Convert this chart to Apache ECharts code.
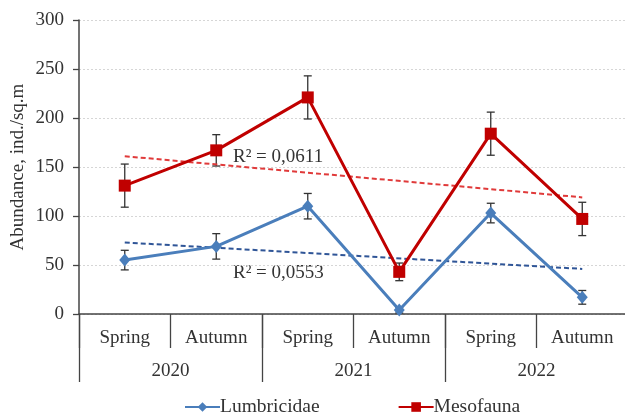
<!DOCTYPE html>
<html>
<head>
<meta charset="utf-8">
<script src="https://cdn.jsdelivr.net/npm/echarts@6/dist/echarts.min.js"></script>
<style>html,body{margin:0;padding:0;background:#fff}#c{width:625px;height:414px}</style>
</head>
<body>
<div id="c"></div>
<script>
const seasons = ['Spring', 'Autumn', 'Spring', 'Autumn', 'Spring', 'Autumn'];
const years = ['2020', '2021', '2022'];
const lumbricidae = [55, 69, 110, 4, 103, 17];
const lumbricidaeErr = [10, 13, 13, 3, 10, 7];
const mesofauna = [131, 167, 221, 43, 184, 97];
const mesofaunaErr = [22, 16, 22, 9, 22, 17];
const lumbTrend = [73, 46];
const mesoTrend = [161, 119];
const yTicks = { min: 0, max: 300, interval: 50 };

const FONT = '"Liberation Serif", "Times New Roman", serif';
const TXT = '#333';

function errSeries(vals, errs, name) {
  return {
    type: 'custom', name: name + ' err', z: 1, silent: true,
    xAxisIndex: 0, yAxisIndex: 0,
    data: vals.map((v, i) => [i, v, errs[i]]),
    renderItem: function (params, api) {
      const x = api.value(0), y = api.value(1), e = api.value(2);
      const top = api.coord([x, y + e]);
      const bot = api.coord([x, y - e]);
      const w = 4;
      const st = { stroke: '#333', lineWidth: 1.3 };
      return {
        type: 'group',
        children: [
          { type: 'line', shape: { x1: top[0], y1: top[1], x2: bot[0], y2: bot[1] }, style: st },
          { type: 'line', shape: { x1: top[0] - w, y1: top[1], x2: top[0] + w, y2: top[1] }, style: st },
          { type: 'line', shape: { x1: bot[0] - w, y1: bot[1], x2: bot[0] + w, y2: bot[1] }, style: st }
        ]
      };
    }
  };
}

const chart = echarts.init(document.getElementById('c'), null, { renderer: 'canvas' });
chart.setOption({
  animation: false,
  backgroundColor: '#fff',
  textStyle: { fontFamily: FONT },
  grid: { left: 79, top: 20, width: 549, height: 294, outerBoundsMode: 'none', containLabel: false },
  legend: {
    data: [
      { name: 'Lumbricidae' },
      { name: 'Mesofauna' }
    ],
    left: 179, top: 392,
    itemWidth: 35, itemHeight: 12, itemGap: 78,
    textStyle: { fontFamily: FONT, fontSize: 19.5, color: TXT, padding: [0, 0, 0, -5] }
  },
  xAxis: [
    {
      type: 'category', data: seasons, position: 'bottom',
      axisLine: { show: true, lineStyle: { color: '#444', width: 1.5 } },
      axisTick: { show: true, length: 34, interval: 0, lineStyle: { color: '#444', width: 1.3 } },
      axisLabel: { interval: 0, margin: 15, fontSize: 19, color: TXT, fontFamily: FONT },
      splitLine: { show: false }
    },
    {
      type: 'category', data: years, position: 'bottom',
      axisLine: { show: false },
      axisTick: { show: true, length: 68, interval: 0, lineStyle: { color: '#444', width: 1.3 } },
      axisLabel: { interval: 0, margin: 48, fontSize: 19, color: TXT, fontFamily: FONT },
      splitLine: { show: false }
    }
  ],
  yAxis: {
    type: 'value', min: yTicks.min, max: yTicks.max, interval: yTicks.interval,
    name: 'Abundance, ind./sq.m', nameLocation: 'middle', nameGap: 51, nameMoveOverlap: false,
    nameTextStyle: { fontSize: 19, color: TXT, fontFamily: FONT },
    axisLine: { show: true, lineStyle: { color: '#444', width: 1.5 } },
    axisTick: { show: true, length: 6, lineStyle: { color: '#444', width: 1.3 } },
    axisLabel: { margin: 15, fontSize: 19, color: TXT, fontFamily: FONT },
    splitLine: { show: true, lineStyle: { color: '#d6d6d6', type: [2, 2], width: 1 } }
  },
  graphic: [
    { type: 'text', left: 233, top: 148, style: { text: 'R² = 0,0611', font: '19px ' + FONT, fill: TXT } },
    { type: 'text', left: 233, top: 264, style: { text: 'R² = 0,0553', font: '19px ' + FONT, fill: TXT } }
  ],
  series: [
    {
      name: 'Lumbricidae trend', type: 'line', z: 2, silent: true,
      data: [[0, lumbTrend[0]], [5, lumbTrend[1]]],
      symbol: 'none', lineStyle: { color: '#2F5597', width: 2, type: [5, 3] }
    },
    {
      name: 'Mesofauna trend', type: 'line', z: 2, silent: true,
      data: [[0, mesoTrend[0]], [5, mesoTrend[1]]],
      symbol: 'none', lineStyle: { color: '#E03A3A', width: 2, type: [5, 3] }
    },
    errSeries(lumbricidae, lumbricidaeErr, 'Lumbricidae'),
    errSeries(mesofauna, mesofaunaErr, 'Mesofauna'),
    {
      name: 'Lumbricidae', type: 'line', z: 3, data: lumbricidae,
      symbol: 'diamond', symbolSize: [11, 13],
      itemStyle: { color: '#4A7EBB' },
      lineStyle: { color: '#4A7EBB', width: 3 }
    },
    {
      name: 'Mesofauna', type: 'line', z: 4, data: mesofauna,
      symbol: 'rect', symbolSize: 12,
      itemStyle: { color: '#C00000' },
      lineStyle: { color: '#C00000', width: 3 }
    }
  ]
});
</script>
</body>
</html>
